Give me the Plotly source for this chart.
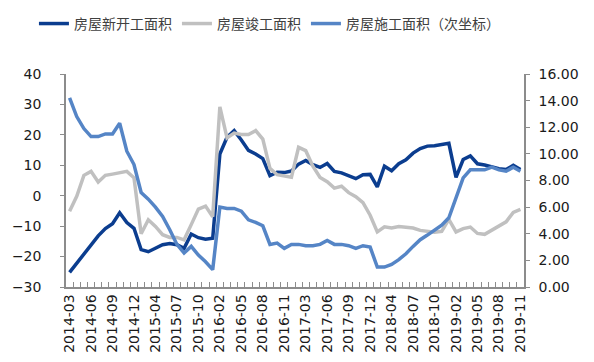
import plotly.graph_objects as go

months = [
    "2014-03", "2014-04", "2014-05", "2014-06", "2014-07", "2014-08", "2014-09", "2014-10", "2014-11", "2014-12",
    "2015-02", "2015-03", "2015-04", "2015-05", "2015-06", "2015-07", "2015-08", "2015-09", "2015-10", "2015-11", "2015-12",
    "2016-02", "2016-03", "2016-04", "2016-05", "2016-06", "2016-07", "2016-08", "2016-09", "2016-10", "2016-11", "2016-12",
    "2017-02", "2017-03", "2017-04", "2017-05", "2017-06", "2017-07", "2017-08", "2017-09", "2017-10", "2017-11", "2017-12",
    "2018-02", "2018-03", "2018-04", "2018-05", "2018-06", "2018-07", "2018-08", "2018-09", "2018-10", "2018-11", "2018-12",
    "2019-02", "2019-03", "2019-04", "2019-05", "2019-06", "2019-07", "2019-08", "2019-09", "2019-10", "2019-11",
]

tick_labels = [
    "2014-03", "2014-06", "2014-09", "2014-12", "2015-04", "2015-07", "2015-10", "2016-02",
    "2016-05", "2016-08", "2016-11", "2017-03", "2017-06", "2017-09", "2017-12", "2018-04",
    "2018-07", "2018-10", "2019-02", "2019-05", "2019-08", "2019-11",
]

new_starts = [
    -25.2, -22.3, -19.3, -16.5, -13.2, -10.8, -9.2, -5.6, -8.8, -10.7,
    -17.7, -18.4, -17.3, -16.1, -15.7, -16.1, -17.3, -12.6, -13.8, -14.3, -14.0,
    13.7, 19.2, 21.4, 18.3, 14.9, 13.7, 12.2, 6.6, 7.7, 7.6, 8.1,
    10.4, 11.6, 10.2, 9.3, 10.6, 8.0, 7.5, 6.6, 5.6, 6.9, 7.0,
    2.9, 9.7, 8.2, 10.5, 11.8, 14.0, 15.5, 16.3, 16.4, 16.8, 17.2,
    6.0, 11.9, 13.1, 10.5, 10.1, 9.5, 8.9, 8.6, 10.0, 8.6,
]

completed = [
    -5.1, -0.2, 6.7, 8.0, 4.5, 6.7, 7.1, 7.5, 8.0, 5.9,
    -12.5, -7.9, -10.1, -12.8, -13.7, -13.7, -14.5, -9.5, -4.4, -3.4, -6.9,
    29.2, 19.0, 20.6, 20.1, 20.1, 21.4, 18.6, 9.0, 6.9, 6.4, 6.1,
    15.9, 14.8, 9.7, 6.0, 4.6, 2.5, 3.1, 1.0, -0.3, -2.3, -6.4,
    -11.9, -10.2, -10.6, -10.1, -10.4, -10.6, -11.4, -11.7, -12.0, -11.7, -7.8,
    -11.9, -10.8, -10.3, -12.4, -12.7, -11.3, -10.0, -8.6, -5.5, -4.5,
]

under_construction = [
    14.2, 12.8, 11.9, 11.3, 11.3, 11.5, 11.5, 12.3, 10.2, 9.2,
    7.1, 6.6, 6.0, 5.3, 4.3, 3.2, 2.55, 3.05, 2.4, 1.9, 1.3,
    6.0, 5.9, 5.9, 5.7, 5.05, 4.85, 4.6, 3.2, 3.3, 2.9, 3.2,
    3.2, 3.1, 3.1, 3.2, 3.5, 3.2, 3.2, 3.1, 2.9, 3.1, 3.0,
    1.5, 1.5, 1.7, 2.05, 2.5, 3.05, 3.55, 3.9, 4.25, 4.65, 5.2,
    6.8, 8.2, 8.8, 8.8, 8.8, 9.0, 8.8, 8.7, 9.0, 8.7,
]

names = ["房屋新开工面积", "房屋竣工面积", "房屋施工面积（次坐标）"]
colors = ["#0B3D8F", "#C0C0C0", "#5585C6"]

fig = go.Figure()
fig.add_trace(go.Scatter(x=months, y=new_starts, name=names[0], mode="lines",
                         line=dict(color=colors[0], width=3.5)))
fig.add_trace(go.Scatter(x=months, y=completed, name=names[1], mode="lines",
                         line=dict(color=colors[1], width=3.5)))
fig.add_trace(go.Scatter(x=months, y=under_construction, name=names[2], mode="lines",
                         line=dict(color=colors[2], width=3.5), yaxis="y2"))

ticktext = [m if m in tick_labels else "" for m in months]

axis_font = dict(family="DejaVu Sans, Verdana, sans-serif", size=14, color="#1a1a1a")

fig.update_layout(
    width=594, height=362,
    margin=dict(l=58, r=78, t=66, b=83, autoexpand=False),
    paper_bgcolor="white", plot_bgcolor="white",
    showlegend=True,
    legend=dict(orientation="h", x=-0.07, xanchor="left", y=1.235, yanchor="middle",
                font=dict(family="Noto Sans CJK SC", size=14, color="#404040"),
                itemwidth=30, tracegroupgap=0, bgcolor="rgba(0,0,0,0)"),
    xaxis=dict(
        type="category", categoryorder="array", categoryarray=months,
        range=[-0.5, len(months) - 0.5],
        tickmode="array", tickvals=months, ticktext=ticktext,
        tickson="boundaries", ticks="inside", ticklen=5, tickcolor="#8c8c8c",
        tickangle=-90, tickfont=axis_font,
        showline=True, linecolor="#8c8c8c", linewidth=1.5,
        showgrid=False, zeroline=False,
    ),
    yaxis=dict(
        range=[-30, 40], dtick=10, tick0=-30,
        ticks="outside", ticklen=4, tickcolor="#8c8c8c",
        showline=True, linecolor="#8c8c8c", linewidth=1.5,
        showgrid=False, zeroline=False, tickfont=axis_font,
        ticklabelstandoff=16,
    ),
    yaxis2=dict(
        overlaying="y", side="right", range=[0, 16], dtick=2, tick0=0,
        tickformat=".2f",
        ticks="outside", ticklen=4, tickcolor="#8c8c8c",
        showline=True, linecolor="#8c8c8c", linewidth=1.5,
        showgrid=False, zeroline=False, tickfont=axis_font,
        ticklabelstandoff=6,
    ),
)

fig.write_html("out.html")
